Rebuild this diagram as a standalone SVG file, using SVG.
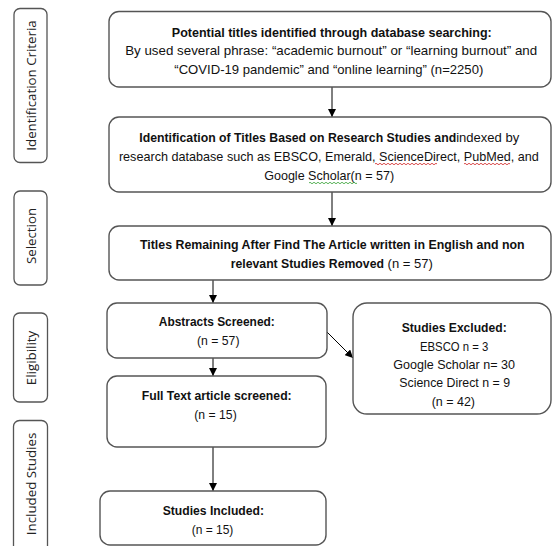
<svg xmlns="http://www.w3.org/2000/svg" width="552" height="546" viewBox="0 0 552 546">
<style>
.box{fill:#fff;stroke:#555;stroke-width:1.4}
.lab{fill:#fff;stroke:#555;stroke-width:1.3}
.t{font-family:"Liberation Sans",Arial,sans-serif;font-size:13.3px;fill:#111}
.b{font-weight:bold;font-size:12.5px}
.s{font-size:12.7px}
.v{font-family:"Open Sans","DejaVu Sans",sans-serif;font-size:13.3px;fill:#222;text-anchor:middle}
.c{fill:none;stroke:#000;stroke-width:1}
.sq{fill:none;stroke-width:0.8}
</style>
<defs>
<marker id="ah" viewBox="0 0 10 10" refX="10" refY="5" markerWidth="8" markerHeight="8" markerUnits="userSpaceOnUse" orient="auto">
<path d="M0,0 L10,5 L0,10 Z" fill="#000"/>
</marker>
</defs>
<rect width="552" height="546" fill="#fff"/>
<g id="label-identification">
<rect class="lab" x="14" y="8.5" width="33" height="154" rx="6"/>
<text class="v" transform="translate(35.5,85.5) rotate(-90)">Identification Criteria</text>
</g>
<g id="label-selection">
<rect class="lab" x="14" y="191" width="33" height="94" rx="6"/>
<text class="v" transform="translate(35.5,236) rotate(-90)">Selection</text>
</g>
<g id="label-eligibility">
<rect class="lab" x="13.5" y="313" width="34" height="89" rx="6"/>
<text class="v" transform="translate(35.5,358) rotate(-90)">Eligibility</text>
</g>
<g id="label-included">
<rect class="lab" x="13.5" y="420.5" width="34" height="135" rx="6"/>
<text class="v" transform="translate(35.5,484) rotate(-90)">Included Studies</text>
</g>
<g id="connectors">
<line class="c" x1="332" y1="87" x2="332" y2="117" marker-end="url(#ah)"/>
<line class="c" x1="332" y1="192" x2="332" y2="226" marker-end="url(#ah)"/>
<line class="c" x1="213" y1="280" x2="213" y2="303" marker-end="url(#ah)"/>
<line class="c" x1="213" y1="358" x2="213" y2="376" marker-end="url(#ah)"/>
<line class="c" x1="213" y1="447" x2="213" y2="491" marker-end="url(#ah)"/>
<line class="c" x1="327" y1="332" x2="353" y2="358" marker-end="url(#ah)"/>
</g>
<g id="node-potential">
<rect class="box" x="109" y="11.5" width="442" height="75.5" rx="10"/>
<text class="t b" x="171.8" y="36.5" textLength="320" lengthAdjust="spacingAndGlyphs">Potential titles identified through database searching:</text>
<text class="t" x="125.2" y="54.5" textLength="412" lengthAdjust="spacingAndGlyphs">By used several phrase: “academic burnout” or “learning burnout” and</text>
<text class="t" x="174.3" y="73.5" textLength="309" lengthAdjust="spacingAndGlyphs">“COVID-19 pandemic” and “online learning” (n=2250)</text>
</g>
<g id="node-identification">
<rect class="box" x="109" y="117" width="442" height="75" rx="10"/>
<text class="t" x="139.3" y="141.5" textLength="380" lengthAdjust="spacingAndGlyphs"><tspan class="b">Identification of Titles Based on Research Studies and</tspan>indexed by</text>
<text class="t s" x="118.9" y="161" textLength="420" lengthAdjust="spacingAndGlyphs">research database such as EBSCO, Emerald, ScienceDirect, PubMed, and</text>
<text class="t" x="264.2" y="180" textLength="130" lengthAdjust="spacingAndGlyphs">Google Scholar(n = 57)</text>
<path class="sq" stroke="#d02020" d="M375,164 q1,-1.5 2,0 t2,0 t2,0 t2,0 t2,0 t2,0 t2,0 t2,0 t2,0 t2,0 t2,0 t2,0 t2,0 t2,0 t2,0 t2,0 t2,0 t2,0 t2,0 t2,0 t2,0 t2,0 t2,0 t2,0 t2,0 t2,0 t2,0 t2,0 t2,0 t2,0 t2,0"/>
<path class="sq" stroke="#d02020" d="M464,164 q1,-1.5 2,0 t2,0 t2,0 t2,0 t2,0 t2,0 t2,0 t2,0 t2,0 t2,0 t2,0 t2,0 t2,0 t2,0 t2,0 t2,0 t2,0 t2,0 t2,0 t2,0 t2,0 t2,0 t2,0"/>
<path class="sq" stroke="#30a030" d="M309,183 q1,-1.5 2,0 t2,0 t2,0 t2,0 t2,0 t2,0 t2,0 t2,0 t2,0 t2,0 t2,0 t2,0 t2,0 t2,0 t2,0 t2,0 t2,0 t2,0 t2,0 t2,0 t2,0 t2,0 t2,0 t2,0"/>
</g>
<g id="node-remaining">
<rect class="box" x="109" y="226" width="442" height="54" rx="10"/>
<text class="t b" x="140" y="248.5" textLength="384.6" lengthAdjust="spacingAndGlyphs">Titles Remaining After Find The Article written in English and non</text>
<text class="t" x="230.7" y="267.5" textLength="202.2" lengthAdjust="spacingAndGlyphs"><tspan class="b">relevant Studies Removed</tspan> (n = 57)</text>
</g>
<g id="node-abstracts">
<rect class="box" x="107" y="303" width="220" height="55" rx="10"/>
<text class="t b" x="158.8" y="325.5" textLength="116" lengthAdjust="spacingAndGlyphs">Abstracts Screened:</text>
<text class="t" x="197" y="345" textLength="42.5" lengthAdjust="spacingAndGlyphs">(n = 57)</text>
</g>
<g id="node-excluded">
<rect class="box" x="353" y="303" width="198" height="111" rx="14"/>
<text class="t b" x="401.7" y="332" textLength="105" lengthAdjust="spacingAndGlyphs">Studies Excluded:</text>
<text class="t" x="420" y="351" textLength="68.3" lengthAdjust="spacingAndGlyphs">EBSCO n = 3</text>
<text class="t" x="393.3" y="369" textLength="121.7" lengthAdjust="spacingAndGlyphs">Google Scholar n= 30</text>
<text class="t" x="399.3" y="387" textLength="110.7" lengthAdjust="spacingAndGlyphs">Science Direct n = 9</text>
<text class="t" x="431.7" y="406" textLength="43.3" lengthAdjust="spacingAndGlyphs">(n = 42)</text>
</g>
<g id="node-fulltext">
<rect class="box" x="107" y="376" width="219" height="71" rx="10"/>
<text class="t b" x="141.7" y="400" textLength="150" lengthAdjust="spacingAndGlyphs">Full Text article screened:</text>
<text class="t" x="194.3" y="419" textLength="42.4" lengthAdjust="spacingAndGlyphs">(n = 15)</text>
</g>
<g id="node-included">
<rect class="box" x="100" y="491" width="226" height="54" rx="10"/>
<text class="t b" x="162.7" y="515" textLength="101.3" lengthAdjust="spacingAndGlyphs">Studies Included:</text>
<text class="t" x="191.7" y="534" textLength="41.6" lengthAdjust="spacingAndGlyphs">(n = 15)</text>
</g>
</svg>
